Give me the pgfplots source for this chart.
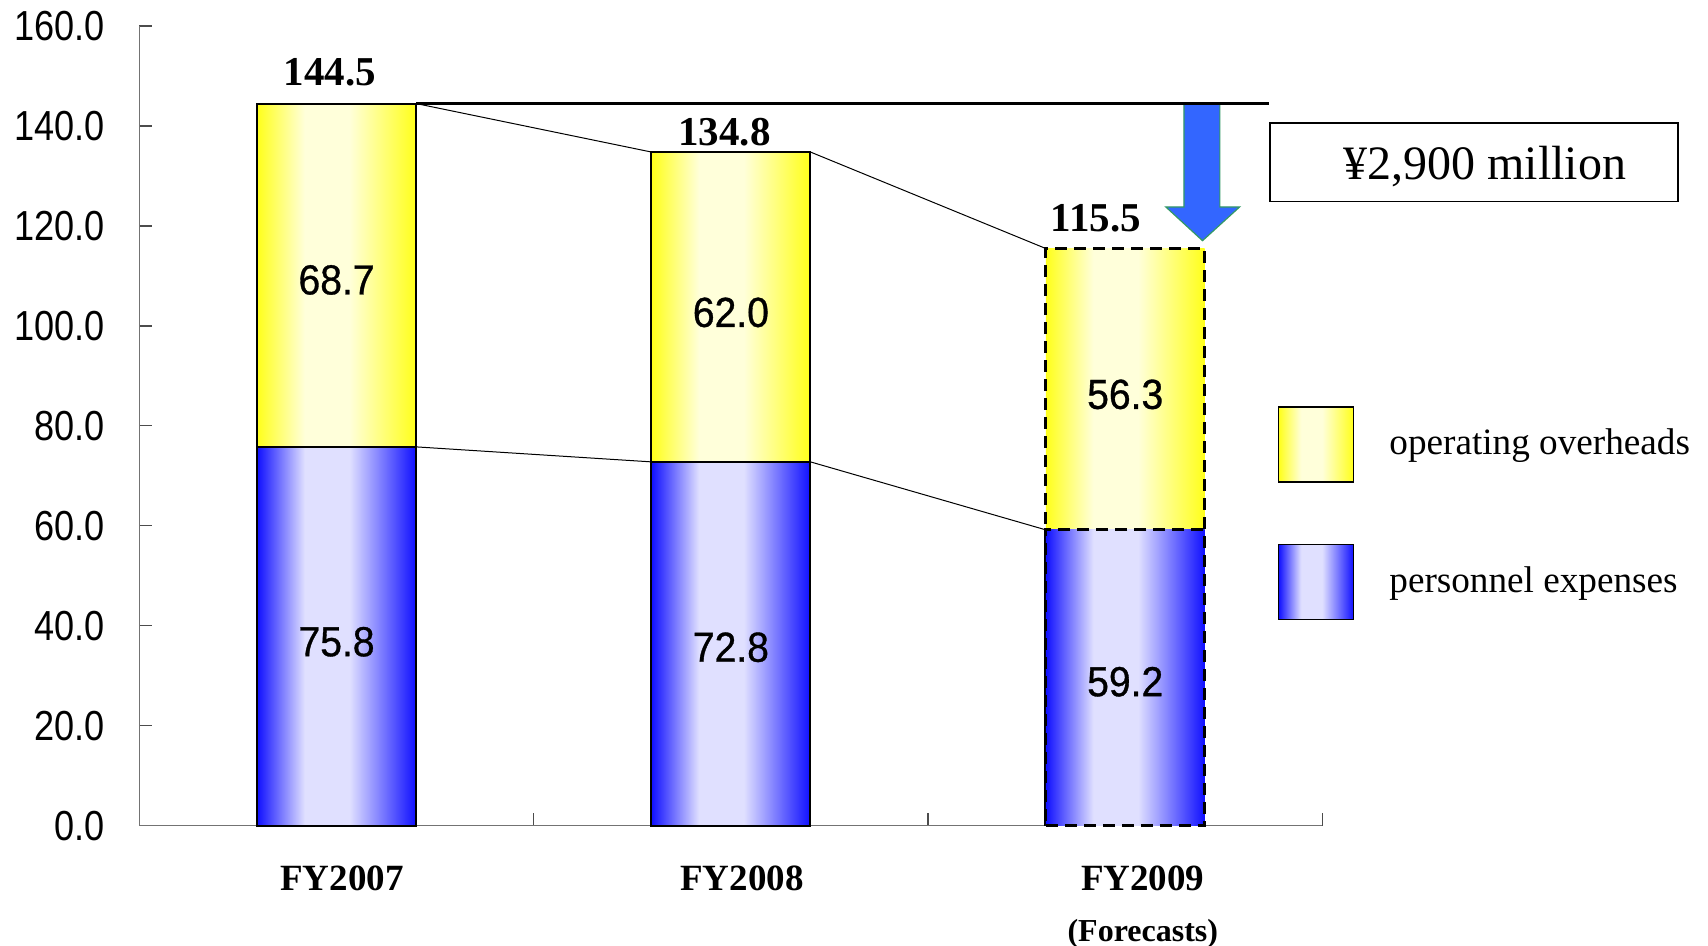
\documentclass[border=0pt]{standalone}
\usepackage{fontspec}
\setmainfont{Liberation Serif}
\newfontfamily\ticknarrow[FakeStretch=0.86]{Liberation Sans}
\newfontfamily\inlabel[FakeStretch=0.93,FakeBold=0.8]{Liberation Sans}
\usepackage{pgfplots}
\pgfplotsset{compat=1.18}
\definecolor{yel}{HTML}{FFFF1A}
\definecolor{yellight}{HTML}{FFFFDA}
\definecolor{blu}{HTML}{1010FF}
\definecolor{blulight}{HTML}{E0E0FF}
\definecolor{arrowblue}{HTML}{3366FF}
\definecolor{arrowgreen}{HTML}{339966}
\pgfdeclarehorizontalshading{yelshade}{100bp}{color(0bp)=(yel); color(25bp)=(yel); color(40bp)=(yellight); color(54bp)=(yellight); color(75bp)=(yel); color(100bp)=(yel)}
\pgfdeclarehorizontalshading{blushade}{100bp}{color(0bp)=(blu); color(25bp)=(blu); color(40bp)=(blulight); color(54bp)=(blulight); color(75bp)=(blu); color(100bp)=(blu)}
\pgfplotsset{sqlegend/.style={legend image code/.code={\draw[##1,/tikz/.cd,solid,line width=0.8pt] (0pt,-19.5pt) rectangle (37.5pt,18pt);}}}
\begin{document}
\begin{tikzpicture}
\useasboundingbox (-69.7pt,-60.15pt) rectangle (784.3pt,412.85pt);
\begin{axis}[
  at={(0pt,0pt)}, anchor=south west,
  scale only axis, width=591.5pt, height=399.8pt,
  xmin=-0.5, xmax=2.5, ymin=0, ymax=160,
  axis x line*=bottom, axis y line*=left,
  axis line style={black!55, line width=0.8pt},
  xtick={-0.5,0.5,1.5,2.5}, xticklabels={},
  ytick={0,20,...,160},
  tick align=inside, major tick length=6.5pt,
  tick style={black!70, line width=0.6pt},
  /pgf/number format/assume math mode=true,
  yticklabel={\pgfmathprintnumber[fixed,fixed zerofill,precision=1]{\tick}},
  yticklabel style={font=\ticknarrow\fontsize{21}{21}\selectfont, inner sep=0pt, xshift=-17pt},
  clip=false,
  bar width=0.403,
  legend cell align=left,
  legend style={at={(0.9623,0.5245)}, anchor=north west, draw=none, fill=none,
    inner sep=0pt, outer sep=0pt, row sep=30.5pt, column sep=17.5pt,
    font=\fontsize{18.6}{18.6}\selectfont, nodes={inner sep=0pt}},
  yelbar/.style={ybar, bar shift=0pt, draw=black, shade, shading=yelshade},
  blubar/.style={ybar, bar shift=0pt, draw=black, shade, shading=blushade},
  solidbar/.style={line width=1pt},
  dashbar/.style={line width=1.6pt, dash pattern=on 6pt off 3.5pt},
]
% yellow: full totals (operating overheads stacked on personnel expenses)
\addplot[yelbar, solidbar, sqlegend] coordinates {(0,144.5)};
\addlegendentry{operating overheads}
\addplot[yelbar, solidbar, forget plot] coordinates {(1,134.8)};
\addplot[yelbar, dashbar, forget plot] coordinates {(2,115.5)};
% blue: personnel expenses
\addplot[blubar, solidbar, sqlegend] coordinates {(0,75.8)};
\addlegendentry{personnel expenses}
\addplot[blubar, solidbar, forget plot] coordinates {(1,72.8)};
\addplot[blubar, dashbar, forget plot] coordinates {(2,59.2)};
% connecting lines
\addplot[black, line width=0.5pt, forget plot] coordinates {(0.2017,144.5) (0.7983,134.8)};
\addplot[black, line width=0.5pt, forget plot] coordinates {(1.2017,134.8) (1.7983,115.5)};
\addplot[black, line width=0.5pt, forget plot] coordinates {(0.2017,75.8) (0.7983,72.8)};
\addplot[black, line width=0.5pt, forget plot] coordinates {(1.2017,72.8) (1.7983,59.2)};
% arrow
\draw[arrowgreen, line width=0.6pt, fill=arrowblue] (axis cs:2.149,144.5) -- (axis cs:2.240,144.5) -- (axis cs:2.240,123.8) -- (axis cs:2.290,123.8) -- (axis cs:2.196,117.06) -- (axis cs:2.103,123.8) -- (axis cs:2.149,123.8) -- cycle;
\addplot[black, line width=1.5pt, forget plot] coordinates {(0.2017,144.5) (2.365,144.5)};
% box
\draw[black, line width=0.8pt] (axis cs:2.367,124.9) rectangle (axis cs:3.401,140.6);
\node[inner sep=0pt, font=\fontsize{24}{24}\selectfont] at (axis cs:2.912,131.9) {¥2,900 million};
% totals
\node[inner sep=0pt, font=\bfseries\fontsize{20.5}{20.5}\selectfont] at (axis cs:-0.0164,150.8) {144.5};
\node[inner sep=0pt, font=\bfseries\fontsize{20.5}{20.5}\selectfont] at (axis cs:0.9836,138.85) {134.8};
\node[inner sep=0pt, font=\bfseries\fontsize{20.5}{20.5}\selectfont] at (axis cs:1.9256,121.6) {115.5};
% inside labels
\node[inner sep=0pt, font=\inlabel\fontsize{21}{21}\selectfont] at (axis cs:0,109.2) {68.7};
\node[inner sep=0pt, font=\inlabel\fontsize{21}{21}\selectfont] at (axis cs:0,36.8) {75.8};
\node[inner sep=0pt, font=\inlabel\fontsize{21}{21}\selectfont] at (axis cs:1,102.7) {62.0};
\node[inner sep=0pt, font=\inlabel\fontsize{21}{21}\selectfont] at (axis cs:1,35.7) {72.8};
\node[inner sep=0pt, font=\inlabel\fontsize{21}{21}\selectfont] at (axis cs:2,86.3) {56.3};
\node[inner sep=0pt, font=\inlabel\fontsize{21}{21}\selectfont] at (axis cs:2,28.8) {59.2};
% category labels
\node[inner sep=0pt, font=\bfseries\fontsize{18.5}{18.5}\selectfont] at (axis cs:0.0138,-10.47) {FY2007};
\node[inner sep=0pt, font=\bfseries\fontsize{18.5}{18.5}\selectfont] at (axis cs:1.0278,-10.47) {FY2008};
\node[inner sep=0pt, font=\bfseries\fontsize{18.5}{18.5}\selectfont] at (axis cs:2.0445,-10.47) {FY2009};
\node[inner sep=0pt, font=\bfseries\fontsize{16}{16}\selectfont] at (axis cs:2.0445,-21.6) {(Forecasts)};
\end{axis}
\end{tikzpicture}
\end{document}
